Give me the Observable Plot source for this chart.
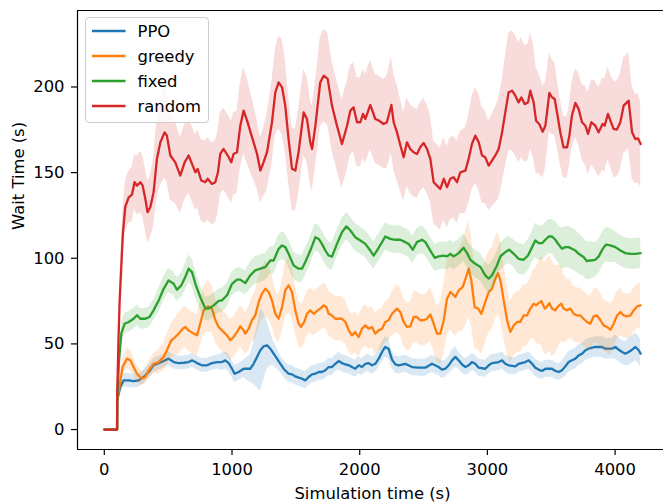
<!DOCTYPE html>
<html><head><meta charset="utf-8">
<script src="https://cdn.jsdelivr.net/npm/d3@7"></script>
<script src="https://cdn.jsdelivr.net/npm/@observablehq/plot@0.6"></script>
<style>body{margin:0;background:#fff}#chart svg{display:block}</style>
</head><body><div id="chart"></div><script>
// [time (s), mean wait time (s), spread (s)]
const ppo = [[0,0,0],[100,0,0],[101,17,2],[125,24.8,3],[151,28.7,4],[191,28.7,4],[229,28.3,4],[269,28.7,4],[308,30.7,4],[347,33.6,4],[386,37.5,4],[426,38.8,4],[465,40,4],[503,41.4,4],[543,39.4,4],[582,38.8,4],[622,39,4],[660,39.4,4],[687,40.4,4],[726,38.8,4],[764,37.5,4],[804,37.5,4],[843,38.8,4],[883,39.4,4],[921,39.4,5],[948,40.4,5],[974,38.8,5],[1000,35.5,5],[1020,32.6,5],[1052,33.6,5],[1091,35.5,5],[1104,35.5,6],[1143,35.5,8],[1169,38.4,12],[1196,42.4,18],[1222,46.3,24],[1248,48.6,20],[1274,49.2,14],[1300,47.2,10],[1326,44.3,7],[1352,41.4,6],[1379,38.4,5],[1404,35.5,5],[1443,32.6,5],[1470,32.2,5],[1496,31,5],[1522,30.3,5],[1548,29.7,5],[1574,28.7,5],[1600,30.7,5],[1627,32.2,5],[1653,32.6,5],[1679,33.6,5],[1704,33.6,5],[1731,34.6,5],[1757,36.5,5],[1783,36.5,5],[1809,38.4,5],[1835,40,5],[1861,38.8,5],[1888,38,5],[1914,37.5,5],[1939,36.5,5],[1965,35.5,5],[1992,37.5,5],[2018,36.5,5],[2044,38.4,5],[2070,38.8,5],[2096,37.5,5],[2122,38.4,5],[2149,41.4,5],[2175,45.3,6],[2200,48.2,6],[2226,47.2,6],[2253,40.8,5],[2279,38,5],[2305,37.5,5],[2357,38.4,5],[2410,36.5,5],[2461,36.1,5],[2514,36.1,5],[2566,38.4,5],[2618,36.5,5],[2644,35,5],[2671,35.5,5],[2697,37.5,5],[2723,40.4,6],[2749,42.4,6],[2775,40.4,5],[2801,38,5],[2828,36.5,5],[2853,37.5,5],[2879,39.4,5],[2905,38.4,5],[2932,36.1,5],[2983,35.5,5],[3010,37.5,5],[3036,38.8,5],[3089,39.4,5],[3115,40.4,5],[3140,38.4,5],[3166,37.5,5],[3219,36.9,5],[3244,38.4,5],[3297,39.4,5],[3323,40.4,5],[3350,38.4,5],[3375,36.1,5],[3401,35,5],[3428,34.2,5],[3454,35.5,5],[3506,35.5,5],[3532,34.2,5],[3558,33.6,5],[3584,34.6,5],[3611,36.9,6],[3636,39.4,6],[3662,40.4,6],[3689,41.4,6],[3715,43.3,6],[3741,44.3,6],[3768,46.3,6],[3793,47.2,6],[3845,48.2,6],[3898,48.2,6],[3923,47.2,6],[3976,47.2,6],[4002,48.2,7],[4029,46.6,7],[4055,45.3,7],[4080,44.3,7],[4106,45.3,8],[4133,46.6,8],[4159,48.2,8],[4185,46.3,8],[4200,44.3,8]];

const greedy = [[0,0,0],[100,0,0],[101,17,2],[125,28,4],[143,36.5,5],[178,41.4,6],[204,40.4,6],[229,36.5,5],[256,32.6,5],[295,29.7,4],[321,30.7,4],[347,34.6,5],[386,38.4,6],[426,39.4,7],[465,42.4,8],[490,46.3,9],[525,52.1,10],[556,54,11],[582,56,12],[614,58.9,12],[634,59.9,12],[660,57.9,12],[700,56,12],[726,55,12],[751,61.8,13],[778,69.6,14],[812,71.9,15],[843,70.6,14],[870,63.8,13],[895,59.9,12],[921,57.9,12],[961,55,12],[987,52.1,12],[1012,54,12],[1039,56.9,12],[1065,60.3,12],[1091,57.9,12],[1104,56,12],[1131,58.9,13],[1156,63.8,13],[1182,66.6,14],[1209,74.4,15],[1235,79.3,15],[1260,82.2,16],[1287,80.3,16],[1313,75.4,15],[1339,67.6,14],[1365,64.7,14],[1392,71.5,15],[1417,81.2,16],[1443,84.2,16],[1470,80.3,15],[1496,69.6,14],[1522,61.8,13],[1540,59.9,13],[1566,62.8,13],[1587,67.6,13],[1613,69.6,13],[1640,67.6,13],[1671,69.6,13],[1691,70.6,13],[1718,72.5,13],[1739,71.5,13],[1757,67.6,13],[1783,66.6,13],[1809,64.7,13],[1835,64.7,13],[1861,64.7,13],[1888,62.8,13],[1914,57.9,12],[1939,55,12],[1965,56.9,12],[1992,54,12],[2018,58.9,12],[2044,60.8,12],[2070,58.9,12],[2096,59.9,12],[2122,56,12],[2149,57.9,12],[2175,58.9,12],[2200,62.8,12],[2226,63.8,12],[2253,67.6,13],[2292,70.6,14],[2318,68.6,14],[2344,62.8,14],[2370,59.9,14],[2396,60.2,14],[2423,65.7,15],[2448,65.7,15],[2474,63.8,15],[2501,63.8,15],[2527,64.7,15],[2553,67.2,16],[2579,61.8,16],[2605,56,16],[2631,56,18],[2658,63.8,20],[2684,76.4,22],[2710,80.3,22],[2749,77.4,23],[2775,81.2,24],[2806,83.2,26],[2833,89,28],[2853,93.9,28],[2874,87.1,26],[2900,71.5,24],[2927,70.6,24],[2953,67.6,24],[2979,73.5,24],[3010,80.3,24],[3036,82.2,24],[3062,88.1,24],[3083,91.3,24],[3102,87.1,23],[3128,75.4,22],[3154,63.8,20],[3180,57,18],[3206,60.8,18],[3232,62.8,18],[3257,62.8,18],[3284,66.6,18],[3310,66.6,18],[3336,70.6,18],[3363,73.5,20],[3381,72.5,22],[3401,73.8,24],[3423,75,26],[3449,70.6,27],[3467,71.9,28],[3485,73.8,28],[3506,70.6,28],[3532,69.6,26],[3553,71.9,24],[3579,73.5,22],[3597,70.6,20],[3624,69.6,18],[3650,70.6,17],[3675,67.6,16],[3702,66.6,16],[3728,66.6,16],[3753,64.7,16],[3780,62.8,16],[3806,61.8,16],[3832,66.1,16],[3858,66.6,16],[3885,63.8,16],[3910,60.8,15],[3936,59.9,15],[3963,58.3,15],[3989,61.8,14],[4015,66.6,14],[4042,68.6,14],[4067,66.6,13],[4093,66.1,13],[4120,66.6,13],[4146,69.6,13],[4172,71.9,13],[4200,72.5,13]];

const fixed = [[0,0,0],[100,0,0],[101,17,3],[115,40,5],[133,56,6],[159,61.8,6],[191,62.8,6],[229,64.7,6],[256,66.7,6],[282,64.7,6],[321,64.7,6],[353,65.7,6],[386,69.6,6],[426,75.4,7],[465,82.2,7],[503,87.1,7],[543,85.1,7],[569,81.6,7],[603,84.2,7],[634,89,8],[660,93.9,8],[687,91.9,8],[713,85.1,8],[751,77.4,7],[791,70.6,7],[817,70.6,7],[857,72.5,7],[895,75.1,7],[921,75.4,7],[961,78.4,7],[1000,85.1,7],[1039,87.5,7],[1065,87.5,7],[1104,85.5,7],[1143,90,8],[1182,92.9,8],[1222,93.9,8],[1260,94.8,8],[1300,98.7,8],[1326,98.7,8],[1365,105.5,8],[1392,107.5,8],[1417,106.5,8],[1443,102.6,8],[1483,95.8,8],[1522,93.9,8],[1548,93.9,8],[1574,97.8,8],[1613,104.5,8],[1653,112.3,8],[1679,111.3,8],[1704,108.4,8],[1731,104.5,8],[1757,101.6,8],[1783,101,8],[1822,108.4,8],[1861,115.2,8],[1895,118.6,8],[1927,116.2,8],[1965,112.3,8],[2005,110.4,8],[2044,108.4,8],[2083,104.5,8],[2109,101.6,8],[2135,104.5,8],[2175,109.4,8],[2200,112.7,8],[2240,111.3,8],[2279,110.8,8],[2318,110.8,8],[2357,109.4,8],[2383,108.4,8],[2415,105,8],[2448,109.4,8],[2488,110.8,8],[2514,109.4,8],[2553,104.5,8],[2588,100.2,8],[2618,101.1,8],[2658,101.6,8],[2684,101.1,8],[2710,102.6,8],[2735,101.1,8],[2775,103,8],[2814,106.1,8],[2841,103,8],[2867,99.1,8],[2905,96.8,8],[2945,94.9,8],[2983,90,8],[3010,88.1,8],[3036,90,8],[3075,95.8,8],[3102,101.1,8],[3140,103.6,8],[3171,105,8],[3206,102.6,8],[3244,99.7,9],[3284,99.1,9],[3318,101.6,9],[3350,106.5,9],[3375,110.4,10],[3401,108.8,10],[3428,108.8,10],[3454,110.8,10],[3480,112.7,10],[3506,112.7,10],[3532,110.8,11],[3558,108,11],[3584,105.5,12],[3611,106.5,12],[3636,106.5,12],[3662,105.5,12],[3689,104.5,12],[3715,102.6,12],[3753,100.7,11],[3780,98.3,11],[3806,98.7,11],[3845,99.1,10],[3872,101.1,10],[3903,105.5,10],[3929,108,10],[3963,107.5,10],[4002,106.5,9],[4042,104.5,9],[4080,103,9],[4120,102.6,9],[4159,102.6,9],[4200,103,9]];

const random = [[0,0,0],[100,0,0],[101,20,4],[110,50,8],[120,75,10],[145,114,14],[164,130,15],[191,135.6,15],[217,137.2,16],[237,144.4,16],[256,142.4,17],[282,144.4,18],[300,142.4,18],[321,134.7,18],[339,126.9,18],[360,129.8,18],[386,138.6,20],[412,158,23],[439,167.7,25],[472,173.5,27],[490,171.6,27],[517,160,26],[556,156,24],[595,148.3,22],[629,156,22],[660,160,22],[692,154.1,22],[713,150.2,22],[731,152.2,23],[759,145.4,24],[791,144.4,24],[809,146.4,24],[843,143.4,24],[869,144.4,24],[890,150.2,24],[908,160.9,24],[934,163.8,24],[974,159,24],[994,156,24],[1012,160.9,24],[1039,161.9,24],[1065,177.4,25],[1091,186.2,25],[1118,180.4,25],[1169,167.7,22],[1196,160.9,20],[1222,151.2,19],[1247,156,20],[1274,161.9,22],[1313,179.4,24],[1339,196.9,25],[1365,202.7,27],[1392,199.8,28],[1417,189.1,27],[1443,169.6,25],[1470,152.2,24],[1496,151.2,24],[1521,161.9,25],[1561,185.2,25],[1587,181.3,25],[1613,167.7,25],[1627,163.8,25],[1653,177.4,25],[1691,202.7,26],[1718,206.6,27],[1749,204.7,27],[1783,189.1,26],[1822,177.4,26],[1861,166.7,26],[1901,177.4,26],[1927,186.2,26],[1952,188.1,26],[1979,179.4,26],[2005,179.4,26],[2026,184.3,26],[2044,181.3,26],[2083,189.5,26],[2122,181.3,26],[2149,180.4,26],[2187,178.4,26],[2213,179.4,27],[2248,189.5,28],[2266,179.4,28],[2292,173.5,28],[2319,165.8,27],[2344,159,26],[2370,167.7,26],[2396,163.8,26],[2422,161.9,26],[2449,160.9,26],[2474,164.8,26],[2501,167.3,26],[2527,163.8,26],[2553,158,25],[2579,144.4,24],[2605,142.4,24],[2631,140.5,24],[2658,146.4,24],[2684,141.5,24],[2709,146.4,24],[2735,147.3,24],[2762,144.4,24],[2788,150.2,24],[2828,151.2,25],[2853,158,26],[2879,166.7,27],[2905,171.6,28],[2932,167.7,28],[2958,160,28],[2983,159,27],[3010,154.1,26],[3036,157,27],[3062,160,28],[3088,163.8,29],[3115,173.5,30],[3140,185.2,32],[3166,196.9,34],[3193,197.8,35],[3219,194.9,35],[3244,191,35],[3266,193.9,35],[3292,190,34],[3318,191,34],[3336,197.8,34],[3362,191,33],[3381,180.3,31],[3406,178.4,29],[3433,173.9,27],[3454,177.4,25],[3467,185.2,24],[3485,196.5,23],[3506,194,22],[3527,193,21],[3545,185.2,20],[3571,173.5,19],[3596,164.8,18],[3624,164.8,18],[3642,171.6,18],[3662,183.3,19],[3689,190.7,20],[3714,187.2,21],[3741,179.4,22],[3767,177.4,23],[3788,172.6,24],[3814,179.4,25],[3845,177.4,26],[3871,173.5,26],[3902,178.4,27],[3918,177.4,27],[3944,184.3,27],[3963,180.4,27],[3988,175.5,28],[4014,175.1,28],[4041,179.4,28],[4067,189.1,28],[4106,192,28],[4133,173.5,27],[4158,169.6,26],[4179,170,26],[4200,166.7,25]];

const seriesNames = ["PPO", "greedy", "fixed", "random"];
const seriesColors = ["#1f77b4", "#ff7f0e", "#2ca02c", "#d62728"];
const seriesData = [ppo, greedy, fixed, random];
const xTicks = [0, 1000, 2000, 3000, 4000];
const yTicks = [0, 50, 100, 150, 200];
const xLabel = "Simulation time (s)";
const yLabel = "Wait Time (s)";

const xDomain = [-210, 4379];
const yDomain = [-11.65, 244.65];
const FS = 16.4;
const FONT = "DejaVu Sans, sans-serif";

const tables = seriesData.map((d, i) => d.map(([t, m, s]) => ({series: seriesNames[i], t, m, lo: m - s, hi: m + s})));

const marks = [];
tables.forEach((rows, i) => {
  marks.push(Plot.areaY(rows, {x: "t", y1: "lo", y2: "hi", fill: seriesColors[i], fillOpacity: 0.17, curve: "linear"}));
  marks.push(Plot.line(rows, {x: "t", y: "m", stroke: seriesColors[i], strokeWidth: 2.3, curve: "linear"}));
});

marks.push(
  Plot.ruleX([xDomain[0]], {stroke: "black", strokeWidth: 1.2}),
  Plot.ruleY([yDomain[0], yDomain[1]], {stroke: "black", strokeWidth: 1.2}),
  Plot.axisX({ticks: xTicks, tickFormat: d => String(d), tickSize: 6, tickPadding: 8, fontSize: FS, label: null, stroke: "black", strokeWidth: 1.2, fill: "black"}),
  Plot.axisY({ticks: yTicks, tickFormat: d => String(d), tickSize: 6, tickPadding: 7, fontSize: FS, label: null, stroke: "black", strokeWidth: 1.2, fill: "black"}),
  Plot.text([xLabel], {text: d => d, frameAnchor: "bottom", lineAnchor: "bottom", dx: 2, dy: 49.5, fontSize: FS, fill: "black"}),
  Plot.text([yLabel], {text: d => d, frameAnchor: "left", lineAnchor: "middle", rotate: -90, dx: -59, fontSize: FS, fill: "black"})
);

const svg = Plot.plot({
  width: 663, height: 502,
  marginLeft: 77, marginRight: 0, marginTop: 10, marginBottom: 53,
  style: {fontFamily: FONT, fontSize: FS + "px", color: "black", background: "white"},
  x: {domain: xDomain},
  y: {domain: yDomain},
  marks
});

// legend (upper left, inside the axes)
const g = d3.select(svg).append("g").attr("font-family", FONT).attr("font-size", FS).attr("text-anchor", "start");
g.append("rect").attr("x", 85.5).attr("y", 17.5).attr("width", 123).attr("height", 105).attr("rx", 3.5)
  .attr("fill", "white").attr("fill-opacity", 0.8).attr("stroke", "#cccccc").attr("stroke-width", 1);
seriesNames.forEach((name, i) => {
  const by = 37.3 + i * 25;
  g.append("line").attr("x1", 92).attr("x2", 125.5).attr("y1", by - 6.3).attr("y2", by - 6.3)
    .attr("stroke", seriesColors[i]).attr("stroke-width", 2.3);
  g.append("text").attr("x", 137.5).attr("y", by).attr("fill", "black").attr("text-anchor", "start").text(name);
});

document.getElementById("chart").appendChild(svg);
</script></body></html>
